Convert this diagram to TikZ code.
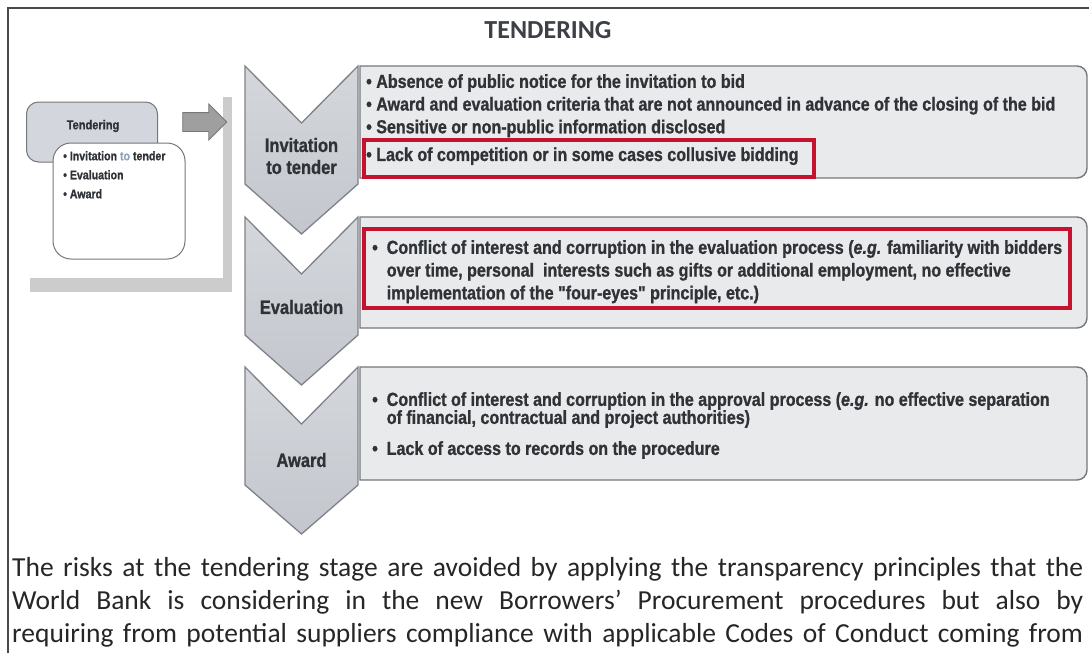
\documentclass[tikz,border=0pt]{standalone}
\usepackage{fontspec}
\setmainfont{Carlito}
\newfontfamily\narrowfont[FakeStretch=0.85, FakeBold=1]{Liberation Sans}
\usetikzlibrary{shapes.arrows}
\lineskiplimit=-20pt

\definecolor{framegray}{HTML}{4A4A4A}
\definecolor{titleink}{HTML}{3D4146}
\definecolor{ink}{HTML}{2F3236}
\definecolor{chevtop}{HTML}{D4D7DC}
\definecolor{chevbot}{HTML}{C3C6CC}
\definecolor{chevedge}{HTML}{7F8288}
\definecolor{boxfill}{HTML}{E9EAEC}
\definecolor{boxedge}{HTML}{74777C}
\definecolor{riskred}{HTML}{C4122F}
\definecolor{tabfill}{HTML}{D3D6DC}
\definecolor{tolight}{HTML}{8FA3C0}

\begin{document}
\begin{tikzpicture}[x=1pt, y=-1pt,
  chev/.style={draw=chevedge, line width=1.3pt, top color=chevtop, bottom color=chevbot},
  panel/.style={draw=boxedge, line width=1.4pt, fill=boxfill},
  redbox/.style={draw=riskred, line width=4.5pt},
  lbl/.style={font=\narrowfont\bfseries\fontsize{19.4}{22}\selectfont, text=ink, align=center, inner sep=0pt},
  txt/.style={font=\narrowfont\bfseries\fontsize{18.9}{22.7}\selectfont, text=ink, align=left, anchor=north west, inner sep=0pt},
  mini/.style={font=\narrowfont\bfseries\fontsize{12.5}{19}\selectfont, text=ink, align=left, inner sep=0pt},
]
\useasboundingbox (0,0) rectangle (1089,653);
\fill[white] (0,0) rectangle (1089,653);
\draw[framegray, line width=1.6pt] (8,653) -- (8,8) -- (1089,8);

\node[font=\bfseries\fontsize{26}{30}\selectfont, text=titleink] (T) at (548,30) {TENDERING};

% small slide on the left
\fill[gray!40] (30,97) rectangle (232,292);
\fill[white] (9,88) rectangle (223,278);
\node[draw=boxedge, line width=1pt, fill=tabfill, rounded corners=12pt, minimum width=131pt, minimum height=60pt] (tab) at (92,132) {};
\node[mini, font=\narrowfont\bfseries\fontsize{13}{15}\selectfont] (tabt) at (93,126) {Tendering};
\node[draw=boxedge, line width=1pt, fill=white, rounded corners=18pt, minimum width=132pt, minimum height=116pt] (list) at (119,201) {};
\node[mini, anchor=north west] (listt) at (63,151) {• Invitation {\color{tolight}to} tender\\• Evaluation\\• Award};
\node[single arrow, draw=boxedge, fill=gray!75, line width=0.8pt, inner xsep=0pt, inner ysep=9pt, minimum height=44pt, single arrow head extend=8.5pt] (go) at (200,122) {};

% stage boxes
\draw[panel] (360,66) -- (1050,66) [rounded corners=10pt] -- (1087,66) -- (1087,178) -- (1050,178) [sharp corners] -- (360,178) -- cycle;
\draw[panel] (360,217) -- (1050,217) [rounded corners=10pt] -- (1087,217) -- (1087,328) -- (1050,328) [sharp corners] -- (360,328) -- cycle;
\draw[panel] (360,367) -- (1050,367) [rounded corners=10pt] -- (1087,367) -- (1087,480) -- (1050,480) [sharp corners] -- (360,480) -- cycle;

% chevrons
\draw[chev] (245,66) -- (301.5,123) -- (358,66) -- (358,184) -- (301.5,234) -- (245,184) -- cycle;
\draw[chev] (245,217) -- (301.5,274) -- (358,217) -- (358,335) -- (301.5,385) -- (245,335) -- cycle;
\draw[chev] (245,367) -- (301.5,424) -- (358,367) -- (358,485) -- (301.5,534) -- (245,485) -- cycle;

\node[lbl] (I) at (301.5,156) {Invitation\\to tender};
\node[lbl] (E) at (301.5,307) {Evaluation};
\node[lbl] (A) at (301.5,460) {Award};

\node[txt] (I1) at (366,74) {• Absence of public notice for the invitation to bid\\
• Award and evaluation criteria that are not announced in advance of the closing of the bid\\
• Sensitive or non-public information disclosed\\[5pt]
• Lack of competition or in some cases collusive bidding};
\node[txt] (E1) at (372,240) {•\ \ Conflict of interest and corruption in the evaluation process (\textit{e.g.} familiarity with bidders\\
\hphantom{•\ \ }over time, personal\ \ interests such as gifts or additional employment, no effective\\
\hphantom{•\ \ }implementation of the "four-eyes" principle, etc.)};
\node[txt, font=\narrowfont\bfseries\fontsize{18.9}{18}\selectfont] (A1) at (372,392) {•\ \ Conflict of interest and corruption in the approval process (\textit{e.g.} no effective separation\\
\hphantom{•\ \ }of financial, contractual and project authorities)\\[13pt]
•\ \ Lack of access to records on the procedure};

\draw[redbox] (364,140) rectangle (814,177);
\draw[redbox] (364,229) rectangle (1070,308);

\node[anchor=north west, inner sep=0pt, align=left, text=black!85, font=\fontsize{27.5}{33}\selectfont] (note) at (12,557) {%
\makebox[1071pt][s]{The risks at the tendering stage are avoided by applying the transparency principles that the}\\
\makebox[1071pt][s]{World Bank is considering in the new Borrowers’ Procurement procedures but also by}\\
\makebox[1071pt][s]{requiring from potential suppliers compliance with applicable Codes of Conduct coming from}};
\end{tikzpicture}
\end{document}
